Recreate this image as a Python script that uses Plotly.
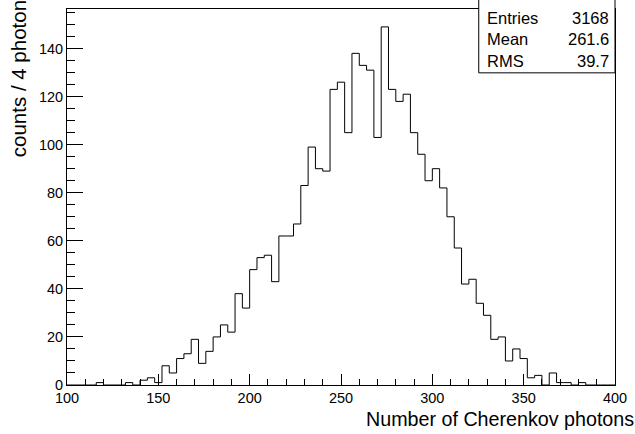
import numpy as np
import plotly.graph_objects as go

# Histogram: 75 bins of width 4 from 100 to 400
bin_low = 100
bin_high = 400
bin_width = 4
counts = [0, 0, 0, 0, 1, 0, 0, 0, 1, 0,
          2, 3, 1, 8, 5, 11, 13, 19, 9, 14,
          20, 25, 22, 38, 32, 48, 53, 54, 43, 62,
          62, 67, 83, 99, 90, 89, 123, 126, 105, 138,
          133, 131, 103, 149, 123, 118, 121, 105, 96, 85,
          90, 82, 70, 57, 42, 44, 34, 29, 19, 20,
          10, 15, 11, 3, 4, 0, 5, 1, 1, 0,
          1, 0, 0, 0, 0]
stats_labels = ["Entries", "Mean", "RMS"]
stats_values = ["3168", "261.6", "39.7"]
x_title = "Number of Cherenkov photons"
y_title = "counts / 4 photons"

edges = np.arange(bin_low, bin_high + bin_width, bin_width)
xs = [edges[0]] + list(edges) + [edges[-1]]
ys = [0] + list(counts) + [counts[-1], 0]

FONT = "Liberation Sans, Arial, Helvetica, sans-serif"

fig = go.Figure()
fig.add_trace(go.Scatter(x=xs, y=ys, mode="lines", line=dict(color="black", width=1, shape="hv"),
                         hoverinfo="skip", showlegend=False))

ymax = 1.05 * max(counts)

fig.update_layout(
    width=635, height=434,
    margin=dict(l=67, r=13, t=8, b=49),
    paper_bgcolor="white", plot_bgcolor="white",
    font=dict(family=FONT, size=14.5, color="black"),
    showlegend=False,
    xaxis=dict(range=[bin_low, bin_high], tickmode="linear", tick0=100, dtick=50,
               ticks="inside", ticklen=11, tickcolor="black", tickwidth=1,
               minor=dict(ticks="inside", ticklen=6, dtick=10, tickcolor="black"),
               showline=True, linecolor="black", linewidth=1, mirror=True,
               showgrid=False, zeroline=False, tickfont=dict(size=14.5)),
    yaxis=dict(range=[0, ymax], tickmode="linear", tick0=0, dtick=20,
               ticks="inside", ticklen=16, tickcolor="black", tickwidth=1,
               minor=dict(ticks="inside", ticklen=8, dtick=5, tickcolor="black"),
               showline=True, linecolor="black", linewidth=1, mirror=True,
               showgrid=False, zeroline=False, tickfont=dict(size=14.5)),
)

# Stats box
px_w, px_h = 555.0, 377.0
def xp(px):
    return (px - 67) / px_w
def yp(py):
    return (385 - py) / px_h

fig.add_shape(type="rect", xref="paper", yref="paper",
              x0=xp(484), x1=xp(622), y0=yp(72), y1=yp(-2),
              line=dict(color="black", width=1), fillcolor="white", layer="above")
row_y = [17, 38.5, 60]
for lab, val, ry in zip(stats_labels, stats_values, row_y):
    fig.add_annotation(text=lab, xref="paper", yref="paper", x=xp(490), y=yp(ry),
                       xanchor="left", yanchor="middle", showarrow=False,
                       font=dict(family=FONT, size=16.5, color="black"))
    fig.add_annotation(text=val, xref="paper", yref="paper", x=xp(618), y=yp(ry),
                       xanchor="right", yanchor="middle", showarrow=False,
                       font=dict(family=FONT, size=16.5, color="black"))

# Axis titles
fig.add_annotation(text=x_title, xref="paper", yref="paper", x=xp(643), y=yp(419),
                   xanchor="right", yanchor="middle", showarrow=False,
                   font=dict(family=FONT, size=19.7, color="black"))
fig.add_annotation(text=y_title, xref="paper", yref="paper", x=xp(18), y=yp(159),
                   xanchor="center", yanchor="bottom", textangle=-90, showarrow=False,
                   font=dict(family=FONT, size=20.5, color="black"))

fig.write_html("out.html")
